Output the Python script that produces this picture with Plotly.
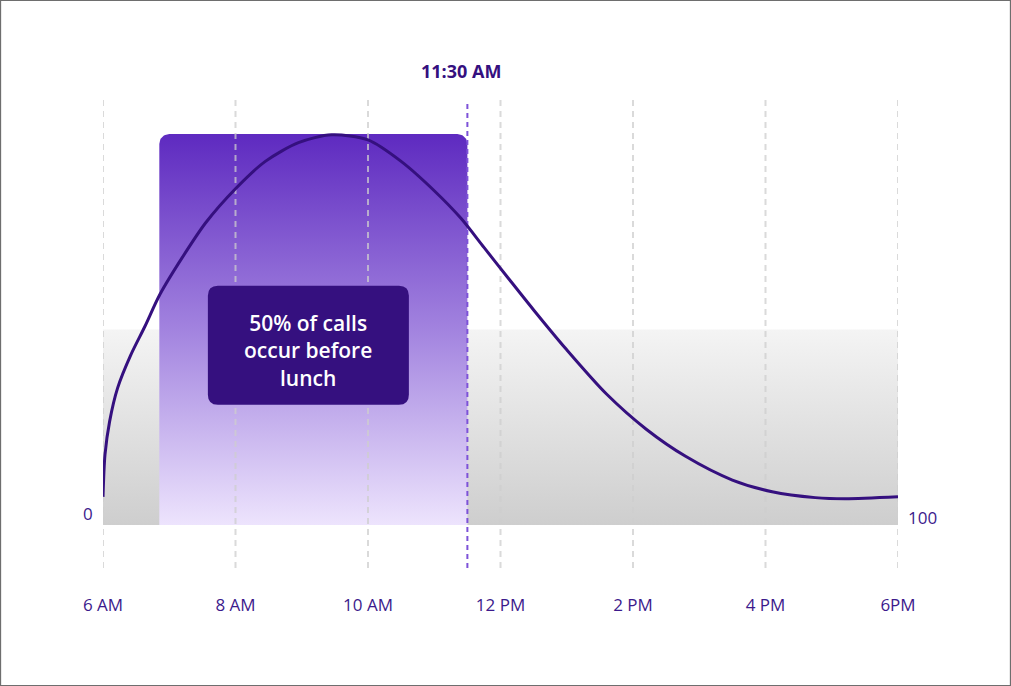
import numpy as np
import plotly.graph_objects as go

# ---------------- data ----------------
tick_hours = [6, 8, 10, 12, 14, 16, 18]
tick_labels = ["6 AM", "8 AM", "10 AM", "12 PM", "2 PM", "4 PM", "6PM"]

curve_hours = [6.0, 6.03, 6.1, 6.22, 6.42, 6.63, 6.86, 7.2, 7.55, 8.0, 8.45, 8.95,
               9.45, 10.0, 10.5, 11.0, 11.4, 11.75, 12.1, 12.5, 13.0, 13.6,
               14.2, 14.8, 15.5, 16.1, 16.75, 17.2, 18.0]
curve_values = [7.2, 18, 26.5, 35, 43.5, 50.7, 59, 68.5, 77.3, 86, 93, 97.8,
                99.8, 98.5, 93, 85.5, 78.5, 71, 63.5, 55, 44.8, 33.5,
                24.5, 17.5, 11.5, 8.5, 7.0, 6.7, 7.2]

band_start, band_end, band_level = 6, 18, 50          # gray reference band
highlight_start, highlight_end, highlight_top = 6.85, 11.5, 100   # purple window
lunch_hour = 11.5
lunch_label = "11:30 AM"
box_text = "50% of calls<br>occur before<br>lunch"
box_hour, box_value = 9.1, 46
left_label, right_label = "0", "100"

# ---------------- layout constants ----------------
W, H = 1011, 686
ML, MR, MT, MB = 103, 113, 100, 118
x_range = [6, 18]
y_range = [-11, 108.7]
px_per_x = (W - ML - MR) / (x_range[1] - x_range[0])
px_per_y = (H - MT - MB) / (y_range[1] - y_range[0])

DARK = "#35107f"
TXT = "#3c1a8c"
FONT = "Open Sans"

fig = go.Figure()

# gray gradient band
fig.add_trace(go.Scatter(
    x=[band_start, band_end, band_end, band_start, band_start],
    y=[0, 0, band_level, band_level, 0],
    mode="lines", line=dict(width=0), fill="toself",
    fillgradient=dict(type="vertical",
                      colorscale=[[0, "#cecece"], [1, "#f4f4f4"]]),
    hoverinfo="skip", showlegend=False))

# purple gradient window with rounded top corners
r = 10
rx, ry = r / px_per_x, r / px_per_y
t = np.linspace(0, np.pi / 2, 12)
xs = [highlight_start, highlight_end]
ys = [0, 0]
xs += list(highlight_end - rx + rx * np.cos(t))
ys += list(highlight_top - ry + ry * np.sin(t))
xs += list(highlight_start + rx - rx * np.cos(t[::-1]))
ys += list(highlight_top - ry + ry * np.sin(t[::-1]))
xs += [highlight_start]
ys += [0]
fig.add_trace(go.Scatter(
    x=xs, y=ys, mode="lines", line=dict(width=0), fill="toself",
    fillgradient=dict(type="vertical",
                      colorscale=[[0, "#ede4fd"], [0.5, "#a283df"], [1, "#5e2ac0"]]),
    hoverinfo="skip", showlegend=False))

# dashed vertical gridlines
gx, gy = [], []
for h in tick_hours:
    gx += [h, h, None]
    gy += [y_range[0], y_range[1], None]
fig.add_trace(go.Scatter(x=gx, y=gy, mode="lines",
                         line=dict(color="rgba(205,205,205,0.75)", width=2, dash="6px,5px"),
                         hoverinfo="skip", showlegend=False))

# lunch marker line
fig.add_trace(go.Scatter(x=[lunch_hour, lunch_hour], y=y_range, mode="lines",
                         line=dict(color="#7d52d8", width=2, dash="5px,4px"),
                         hoverinfo="skip", showlegend=False))

# distribution curve
fig.add_trace(go.Scatter(x=curve_hours, y=curve_values, mode="lines",
                         line=dict(color=DARK, width=3, shape="spline", smoothing=0.8),
                         hoverinfo="skip", showlegend=False))

# rounded callout box (pixel-sized, anchored in data space)
bw, bh, br = 201 / 2, 119 / 2, 10
path = (f"M {-bw+br},{-bh} L {bw-br},{-bh} Q {bw},{-bh} {bw},{-bh+br} "
        f"L {bw},{bh-br} Q {bw},{bh} {bw-br},{bh} L {-bw+br},{bh} "
        f"Q {-bw},{bh} {-bw},{bh-br} L {-bw},{-bh+br} Q {-bw},{-bh} {-bw+br},{-bh} Z")
fig.add_shape(type="path", xref="x", yref="y", xsizemode="pixel", ysizemode="pixel",
              xanchor=box_hour, yanchor=box_value, path=path,
              fillcolor=DARK, line=dict(width=0), layer="above")

fig.add_annotation(x=box_hour, y=box_value, xref="x", yref="y", text=box_text,
                   showarrow=False, align="center", yshift=-5,
                   font=dict(family=FONT, size=21, color="white", weight=600))

fig.add_annotation(x=lunch_hour, y=1, xref="x", yref="paper", yanchor="bottom",
                   yshift=15, xshift=-6, text=f"<b>{lunch_label}</b>", showarrow=False,
                   font=dict(family=FONT, size=18, color=DARK))

fig.add_annotation(x=x_range[0], y=3, xref="x", yref="y", xanchor="right", xshift=-8,
                   text=left_label, showarrow=False,
                   font=dict(family=FONT, size=17, color=TXT))
fig.add_annotation(x=x_range[1], y=2, xref="x", yref="y", xanchor="left", xshift=8,
                   text=right_label, showarrow=False,
                   font=dict(family=FONT, size=17, color=TXT))

# outer frame
fig.add_shape(type="rect", xref="paper", yref="paper",
              x0=-ML / (W - ML - MR) + 0.0005, x1=1 + MR / (W - ML - MR) - 0.0005,
              y0=-MB / (H - MT - MB) + 0.0008, y1=1 + MT / (H - MT - MB) - 0.0008,
              line=dict(color="#6e6e6e", width=1.5), fillcolor="rgba(0,0,0,0)", layer="above")

fig.update_layout(
    width=W, height=H,
    margin=dict(l=ML, r=MR, t=MT, b=MB),
    paper_bgcolor="white", plot_bgcolor="white",
    font=dict(family=FONT, color=TXT),
    xaxis=dict(range=x_range, tickvals=tick_hours, ticktext=tick_labels,
               showgrid=False, zeroline=False, showline=False, ticks="",
               ticklabelstandoff=25, tickfont=dict(family=FONT, size=17, color=TXT)),
    yaxis=dict(range=y_range, showgrid=False, zeroline=False, showline=False,
               showticklabels=False, ticks=""),
)

fig.write_html("out.html", post_script="document.body.style.margin='0';",
               config={"displayModeBar": False})
